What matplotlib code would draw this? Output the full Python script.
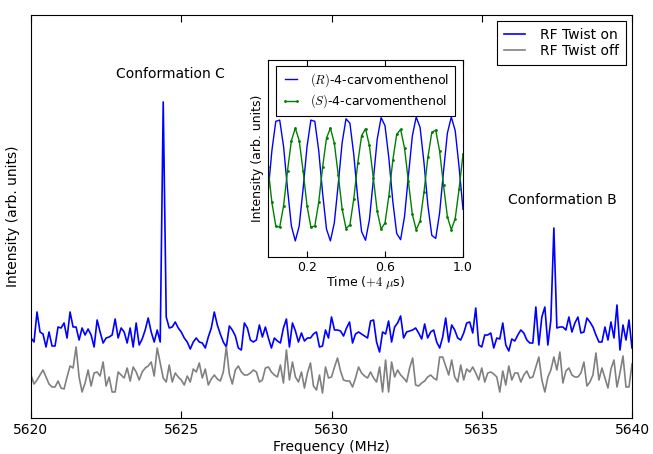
import numpy as np
import matplotlib
matplotlib.use("Agg")
import matplotlib.pyplot as plt

plt.rcParams['mathtext.fontset'] = 'cm'

# main spectrum, 0.1 MHz steps from 5620 to 5640 MHz
freq = np.linspace(5620, 5640, 201)

twist_on = [
    80, 76, 106, 86, 84, 71, 86, 72, 72, 91,
    90, 95, 80, 106, 91, 91, 78, 90, 83, 89,
    83, 71, 98, 86, 75, 80, 81, 83, 99, 80,
    90, 86, 75, 90, 71, 95, 73, 79, 88, 100,
    86, 76, 88, 76, 316, 101, 90, 91, 96, 90,
    86, 80, 76, 69, 76, 80, 76, 75, 70, 81,
    90, 106, 93, 84, 76, 71, 92, 88, 82, 70,
    68, 95, 90, 78, 76, 78, 93, 81, 91, 80,
    70, 80, 77, 75, 90, 99, 71, 95, 87, 76,
    85, 77, 80, 80, 84, 86, 71, 72, 88, 80,
    101, 88, 88, 87, 82, 90, 96, 75, 84, 86,
    84, 82, 80, 97, 98, 76, 66, 86, 84, 97,
    76, 91, 95, 102, 80, 86, 87, 88, 90, 85,
    79, 94, 80, 86, 88, 76, 70, 81, 100, 76,
    93, 88, 80, 78, 85, 95, 96, 85, 110, 73,
    71, 83, 83, 85, 70, 80, 79, 95, 73, 67,
    79, 77, 83, 88, 85, 78, 75, 75, 111, 73,
    101, 111, 73, 98, 190, 90, 91, 91, 88, 101,
    86, 95, 101, 85, 86, 100, 96, 91, 83, 76,
    76, 91, 78, 96, 80, 113, 68, 93, 78, 98,
    70,
]

twist_off = [
    43, 34, 38, 43, 48, 41, 34, 31, 31, 37,
    30, 29, 41, 52, 50, 71, 41, 26, 35, 48,
    32, 45, 46, 42, 56, 32, 41, 26, 26, 46,
    43, 40, 50, 37, 51, 46, 38, 46, 50, 52,
    56, 42, 70, 55, 40, 36, 53, 36, 45, 41,
    38, 33, 42, 36, 49, 46, 55, 40, 49, 33,
    39, 43, 39, 37, 46, 71, 44, 34, 48, 52,
    46, 43, 43, 45, 48, 46, 36, 38, 50, 51,
    46, 43, 41, 53, 35, 68, 38, 56, 41, 36,
    46, 30, 45, 55, 32, 28, 43, 25, 51, 40,
    41, 51, 60, 47, 38, 37, 37, 31, 40, 51,
    45, 42, 40, 46, 40, 36, 51, 26, 58, 26,
    56, 41, 48, 43, 40, 36, 50, 60, 33, 32,
    35, 37, 41, 43, 40, 38, 61, 61, 52, 43,
    58, 41, 36, 53, 38, 49, 46, 51, 45, 38,
    50, 36, 45, 46, 44, 41, 26, 47, 33, 52,
    38, 45, 45, 36, 43, 47, 40, 41, 51, 61,
    38, 26, 41, 48, 61, 48, 66, 35, 47, 50,
    43, 41, 41, 45, 56, 32, 36, 43, 65, 38,
    50, 40, 30, 49, 58, 31, 45, 62, 31, 31,
    54,
]

# inset: time domain, 20 ns steps
t_inset = np.linspace(0, 1.0, 51)
r_signal = [
    -0.23, 0.46, 0.93, 0.95, 0.52, -0.16, -0.76, -1.00, -0.76, -0.16,
    0.52, 0.95, 0.93, 0.46, -0.23, -0.81, -1.00, -0.71, -0.09, 0.58,
    0.97, 0.90, 0.39, -0.30, -0.85, -0.99, -0.66, -0.02, 0.64, 0.99,
    0.86, 0.33, -0.36, -0.88, -0.98, -0.61, 0.05, 0.69, 1.00, 0.83,
    0.26, -0.43, -0.91, -0.96, -0.55, 0.12, 0.74, 1.00, 0.78, 0.19,
    -0.49,
]
s_signal = [
    0.19, -0.38, -0.76, -0.78, -0.43, 0.13, 0.62, 0.82, 0.62, 0.13,
    -0.43, -0.78, -0.76, -0.38, 0.19, 0.66, 0.82, 0.58, 0.07, -0.48,
    -0.80, -0.74, -0.32, 0.25, 0.70, 0.81, 0.54, 0.02, -0.52, -0.81,
    -0.71, -0.27, 0.30, 0.72, 0.80, 0.50, -0.04, -0.57, -0.82, -0.68,
    -0.21, 0.35, 0.75, 0.79, 0.45, -0.10, -0.61, -0.82, -0.64, -0.16,
    0.40,
]

fig = plt.figure(figsize=(6.53, 4.54), dpi=100)
ax = fig.add_axes([31/653, 36/454, 601/653, 403/454])

ax.plot(freq, twist_on, color='#0000ff', lw=1.2, label='RF Twist on')
ax.plot(freq, twist_off, color='#808080', lw=1.2, label='RF Twist off')
ax.set_xlim(5620, 5640)
ax.set_ylim(0, 403)
ax.set_xticks([5620, 5625, 5630, 5635, 5640])
ax.set_yticks([])
ax.tick_params(axis='x', direction='in', top=True, length=5, labelsize=10)
ax.set_xlabel('Frequency (MHz)', fontsize=10, labelpad=2)
ax.set_ylabel('Intensity (arb. units)', fontsize=10, labelpad=8)
ax.text(5624.63, 344, 'Conformation C', ha='center', va='center', fontsize=10)
ax.text(5637.67, 218, 'Conformation B', ha='center', va='center', fontsize=10)
leg = ax.legend(loc='upper right', fontsize=10, fancybox=False, framealpha=1,
                edgecolor='black', handlelength=1.45, handletextpad=1.1,
                labelspacing=0.15, borderpad=0.5, borderaxespad=0.45)
leg.get_frame().set_linewidth(0.8)

# inset
ins = fig.add_axes([268/653, 197/454, 195/653, 197/454])
ins.plot(t_inset, r_signal, color='#0000ff', lw=1.0, label=r'$(R)$-4-carvomenthenol')
ins.plot(t_inset, s_signal, color='#008000', lw=1.0, marker='.', ms=2.0,
         label=r'$(S)$-4-carvomenthenol')
ins.set_xlim(0, 1.0)
ins.set_ylim(-1.26, 1.92)
ins.set_xticks([0.2, 0.6, 1.0])
ins.set_xticklabels(['0.2', '0.6', '1.0'])
ins.set_yticks([])
ins.tick_params(axis='x', direction='in', top=True, length=4, labelsize=9, pad=3)
ins.set_xlabel(r'Time ($+4\ \mu$s)', fontsize=9, labelpad=0)
ins.set_ylabel('Intensity (arb. units)', fontsize=9, labelpad=3)
ileg = ins.legend(loc='upper center', fontsize=9, fancybox=False, framealpha=1,
                  edgecolor='black', handlelength=1.5, handletextpad=0.8,
                  numpoints=2, borderaxespad=0.45, labelspacing=0.3,
                  borderpad=0.45)
ileg.get_frame().set_linewidth(0.8)

fig.savefig('out.png', dpi=100)
